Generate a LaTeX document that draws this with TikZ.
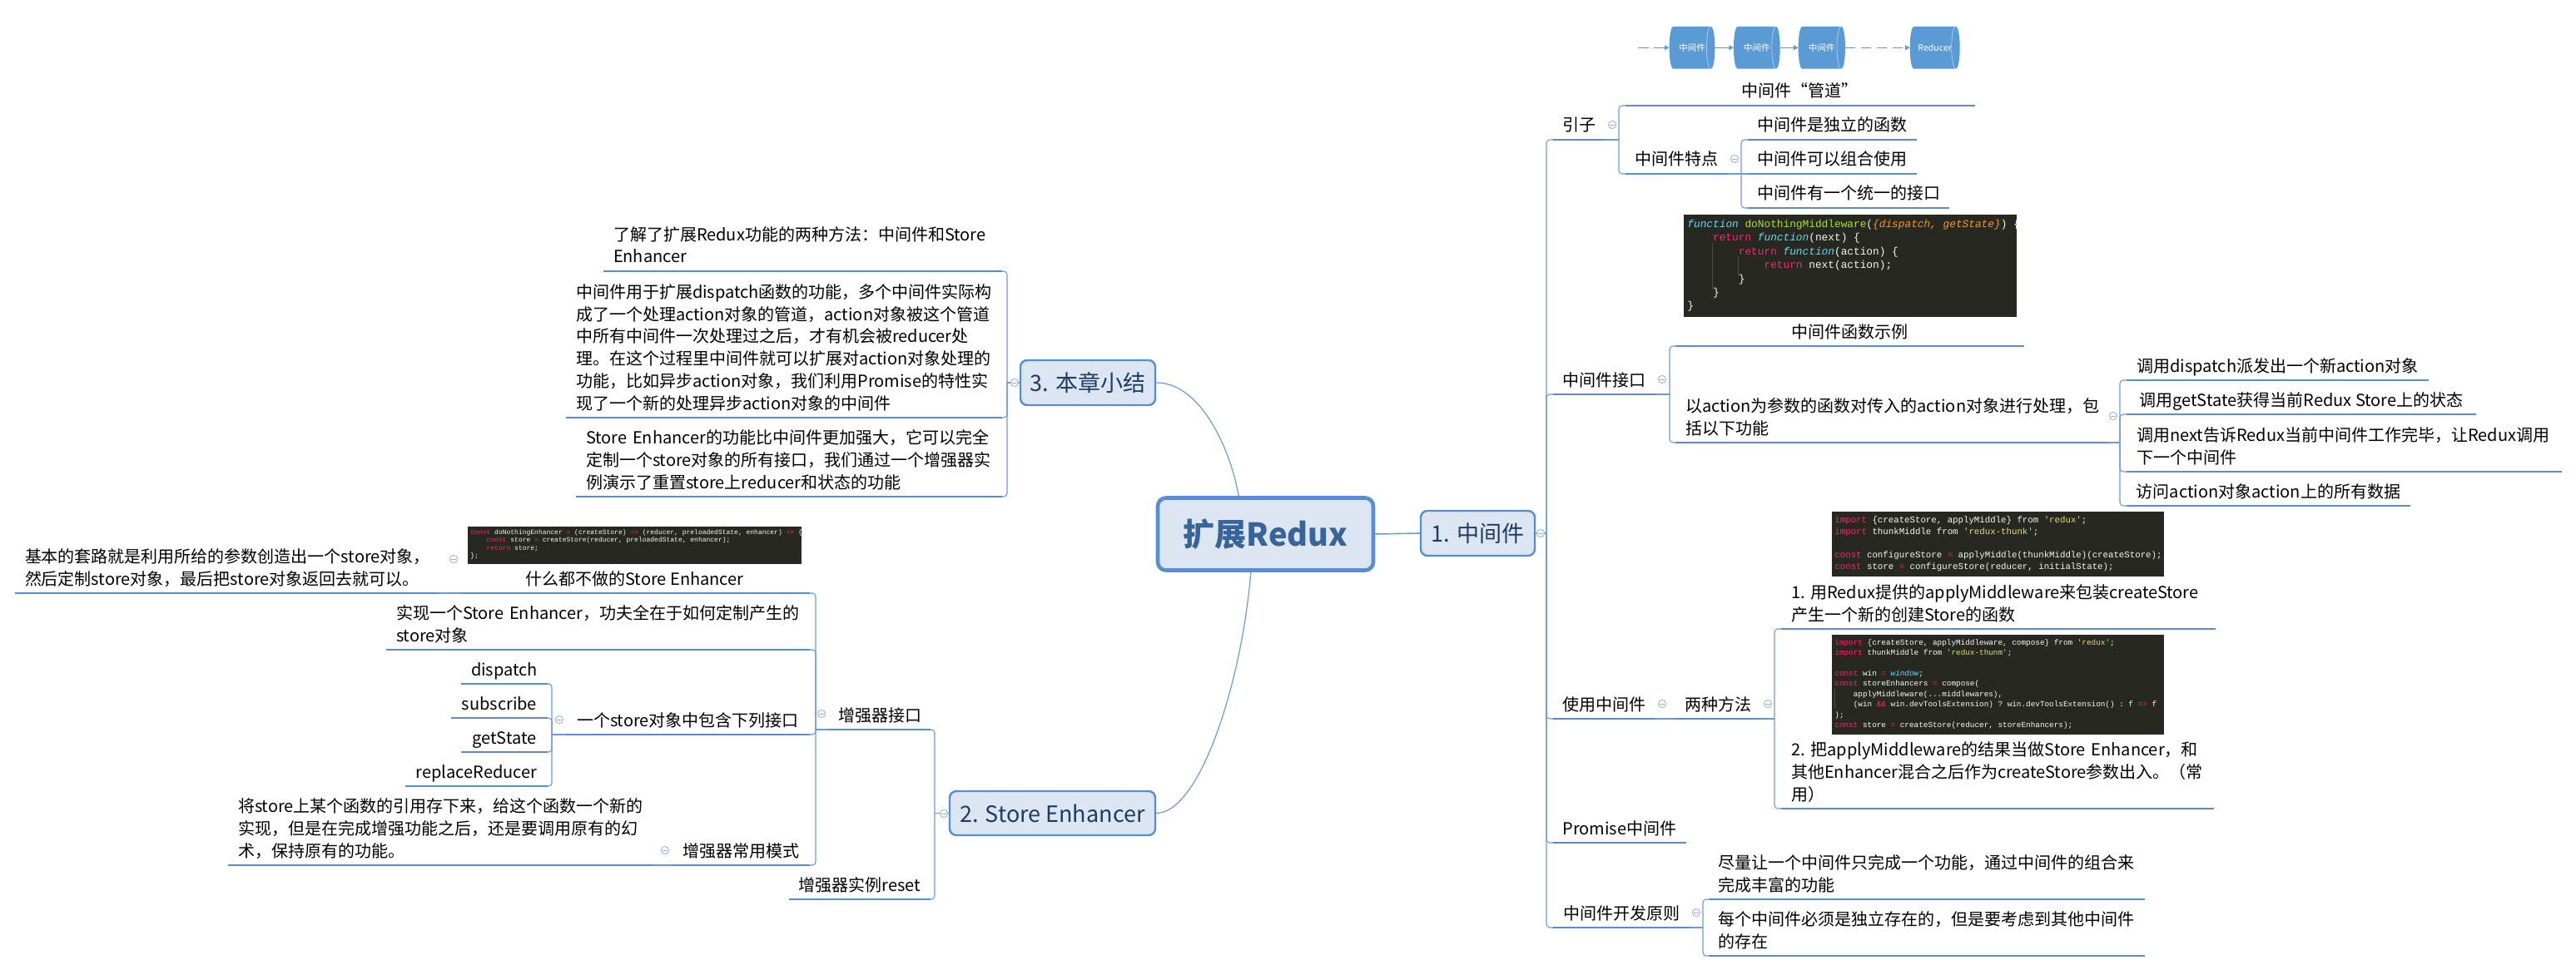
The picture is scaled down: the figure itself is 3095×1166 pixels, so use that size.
\documentclass[tikz,border=0pt]{standalone}
\usepackage{fontspec}
\setmainfont{Noto Sans CJK SC}
\setmonofont{Liberation Mono}
\usetikzlibrary{arrows.meta,calc}
\pgfdeclarelayer{back}
\pgfdeclarelayer{mid}
\pgfsetlayers{back,mid,main}
\definecolor{ul}{HTML}{5A8AD2}
\definecolor{cn}{HTML}{6C9AD8}
\definecolor{boxfill}{HTML}{DCE6F2}
\definecolor{boxdraw}{HTML}{558ED5}
\definecolor{roottext}{HTML}{386499}
\definecolor{boxtext}{HTML}{1F3B63}
\definecolor{pipe}{HTML}{5B9BD5}
\definecolor{pipeedge}{HTML}{A9C8EA}
\definecolor{btn}{HTML}{93AFDB}
\definecolor{codebg}{HTML}{272822}
\definecolor{ctx}{HTML}{F8F8F2}
\definecolor{ckw}{HTML}{F92672}
\definecolor{cfn}{HTML}{66D9EF}
\definecolor{cgn}{HTML}{A6E22E}
\definecolor{cor}{HTML}{FD971F}
\definecolor{cst}{HTML}{E6DB74}
\definecolor{cguide}{HTML}{4A4B42}
\newcommand\cKw[1]{\textcolor{ckw}{#1}}
\newcommand\cFn[1]{\textcolor{cfn}{\itshape #1}}
\newcommand\cGn[1]{\textcolor{cgn}{#1}}
\newcommand\cOr[1]{\textcolor{cor}{\itshape #1}}
\newcommand\cSt[1]{\textcolor{cst}{#1}}
\newcommand\cInd[1]{\hspace*{#1em}}
\newcommand\cDots{...}
\newcommand\joinR[3]{\draw[conn] (#1) -- (#3 |- #1);\draw[conn,rounded corners=2pt] (#3 |- #1) -- (#3 |- #2.south west) -- (#2.south west);}
\newcommand\joinL[3]{\draw[conn] (#1) -- (#3 |- #1);\draw[conn,rounded corners=2pt] (#3 |- #1) -- (#3 |- #2.south east) -- (#2.south east);}
\newcommand\cylfill[1]{%
  \begin{pgfonlayer}{mid}
  \fill[pipe] ([xshift=2.5pt]#1.north west) -- ([xshift=-2.5pt]#1.north east)
    .. controls ([xshift=0.83pt]#1.north east) and ([xshift=0.83pt]#1.south east) .. ([xshift=-2.5pt]#1.south east)
    -- ([xshift=2.5pt]#1.south west)
    .. controls ([xshift=-0.83pt]#1.south west) and ([xshift=-0.83pt]#1.north west) .. ([xshift=2.5pt]#1.north west) -- cycle;
  \draw[pipeedge, line width=0.4pt] ([xshift=-2.5pt]#1.north east) .. controls ([xshift=-5.83pt]#1.north east) and ([xshift=-5.83pt]#1.south east) .. ([xshift=-2.5pt]#1.south east);
  \end{pgfonlayer}}
\begin{document}
\begin{tikzpicture}[x=0.5pt,y=-0.5pt,
  topic/.style={anchor=south west, inner xsep=0pt, inner ysep=5pt, outer sep=0pt, text depth=0pt, font=\fontsize{10}{13.35}\selectfont, text=black},
  ml/.style 2 args={align=left, text width=#1, text depth=#2},
  box/.style={rounded corners=4pt, fill=boxfill, draw=boxdraw, line width=1.2pt, inner sep=0pt, text=boxtext, font=\fontsize{13.5}{16}\selectfont},
  rootbox/.style={rounded corners=5pt, fill=boxfill, draw=boxdraw, line width=2.3pt, inner sep=0pt, text=roottext, font=\bfseries\fontsize{19}{22}\selectfont},
  conn/.style={draw=cn, line width=0.55pt},
  rootconn/.style={draw=cn, line width=0.6pt},
  uline/.style={draw=ul, line width=1.3pt},
  btnc/.style={circle, draw=btn, fill=white, line width=0.4pt, minimum size=4.6pt, inner sep=0pt, path picture={\draw[btn, line width=0.4pt] ([xshift=-1.3pt]path picture bounding box.center) -- ([xshift=1.3pt]path picture bounding box.center);}},
  pipenode/.style={minimum height=25pt, inner sep=0pt, text=white, font=\fontsize{5.3}{6}\selectfont},
  pipearrow/.style={draw=pipe, line width=0.6pt, -{Triangle[length=2.8pt,width=2.8pt]}},
  codebox/.style={fill=codebg, anchor=north west, inner sep=0pt, outer sep=0pt},
  codeline/.style={anchor=base west, inner sep=0pt, text=ctx}
]
\begin{pgfonlayer}{back}
\fill[white] (0,0) rectangle (3095,1166);
\end{pgfonlayer}
\useasboundingbox (0,0) rectangle (3095,1166);

% ---------- central and main boxes
\node[rootbox, minimum width=129.5pt, minimum height=43.5pt] (root) at (1520.5,642) {扩展Redux};
\node[box, minimum width=68.5pt, minimum height=27pt] (m) at (1775.5,641) {1. 中间件};
\node[box, minimum width=123.5pt, minimum height=26.5pt] (se) at (1264.5,977.5) {2. Store Enhancer};
\node[box, minimum width=81pt, minimum height=27pt] (bj) at (1307,460) {3. 本章小结};

\coordinate (rt) at ($(root.north west)!0.378!(root.north east)$);
\coordinate (rb) at ($(root.south west)!0.433!(root.south east)$);
\draw[rootconn] (rt) .. controls +(-11,-60) and +(52,0) .. (bj.east);
\draw[rootconn] (rb) .. controls +(-11,134) and +(52,0) .. (se.east);
\draw[rootconn, line width=0.8pt] (root.east) -- (m.west);

% ---------- pipeline picture
\node[pipenode, minimum width=27pt] (p1) at (2033,57.3) {中间件};
\node[pipenode, minimum width=27.5pt] (p2) at (2110.8,57.3) {中间件};
\node[pipenode, minimum width=27.8pt] (p3) at (2188.8,57.3) {中间件};
\node[pipenode, minimum width=29.6pt] (p4) at (2324.7,57.3) {Reducer};
\cylfill{p1}\cylfill{p2}\cylfill{p3}\cylfill{p4}
\coordinate (pst) at (1968,57.3);
\draw[pipearrow, dash pattern=on 6.5pt off 3pt] (pst) -- (p1.west);
\draw[pipearrow] (p1.east) -- (p2.west);
\draw[pipearrow] (p2.east) -- (p3.west);
\draw[pipearrow, dash pattern=on 6pt off 3.5pt] (p3.east) -- (p4.west);

% ---------- code pictures
\node[codebox, minimum width=200pt, minimum height=61.5pt] (code1) at (2023,258) {};
\draw[cguide, line width=0.4pt] (2057.5,292) -- (2057.5,348);
\draw[cguide, line width=0.4pt] (2088.5,308) -- (2088.5,332);
\foreach \cl [count=\i from 0] in {
 {\cFn{function} \cGn{doNothingMiddleware}(\cOr{\{dispatch, getState\}}) \{},
 {\cInd{2.4}\cKw{return} \cFn{function}(next) \{},
 {\cInd{4.8}\cKw{return} \cFn{function}(action) \{},
 {\cInd{7.2}\cKw{return} next(action);},
 {\cInd{4.8}\}},
 {\cInd{2.4}\}},
 {\}}}
 \node[codeline, font=\ttfamily\fontsize{6.4}{8}\selectfont] (ca\i) at (2027,{273.5+16.4*\i}) {\cl};

\node[codebox, minimum width=199.5pt, minimum height=39pt] (code2) at (2201,615) {};
\foreach \cl [count=\i from 0] in {
 {\cKw{import} \{createStore, applyMiddle\} from \cSt{'redux'};},
 {\cKw{import} thunkMiddle from \cSt{'redux-thunk'};},
 {},
 {\cKw{const} configureStore \cKw{=} applyMiddle(thunkMiddle)(createStore);},
 {\cKw{const} store \cKw{=} configureStore(reducer, initialState);}}
 \node[codeline, font=\ttfamily\fontsize{5.37}{7}\selectfont] (cb\i) at (2204,{628+14*\i}) {\cl};

\node[codebox, minimum width=199.5pt, minimum height=60pt] (code3) at (2201,763) {};
\draw[cguide, line width=0.4pt] (2204.5,828) -- (2204.5,852);
\foreach \cl [count=\i from 0] in {
 {\cKw{import} \{createStore, applyMiddleware, compose\} from \cSt{'redux'};},
 {\cKw{import} thunkMiddle from \cSt{'redux-thunm'};},
 {},
 {\cKw{const} win \cKw{=} \cFn{window};},
 {\cKw{const} storeEnhancers \cKw{=} compose(},
 {\cInd{2.4}applyMiddleware(\cDots middlewares),},
 {\cInd{2.4}(win \cKw{\&\&} win.devToolsExtension) ? win.devToolsExtension() : f \cKw{=>} f},
 {);},
 {\cKw{const} store \cKw{=} createStore(reducer, storeEnhancers);}}
 \node[codeline, font=\ttfamily\fontsize{4.67}{6}\selectfont] (cc\i) at (2204,{775.2+12.41*\i}) {\cl};

\node[codebox, minimum width=200.5pt, minimum height=22.5pt] (code4) at (562,633) {};
\foreach \cl [count=\i from 0] in {
 {\cKw{const} doNothingEnhancer \cKw{=} (createStore) \cKw{=>} (reducer, preloadedState, enhancer) \cKw{=>} \{},
 {\cInd{2.4}\cKw{const} store \cKw{=} createStore(reducer, preloadedState, enhancer);},
 {\cInd{2.4}\cKw{return} store;},
 {\};}}
 \node[codeline, font=\ttfamily\fontsize{4}{5}\selectfont] (cd\i) at (565,{642.2+9.43*\i}) {\cl};

% ---------- right side topics
\node[topic, minimum width=31pt] (yz) at (1866,168) {引子};
\node[topic, minimum width=209.75pt] (gd) at (1953,127) {中间件“管道”};
\node[topic, minimum width=61.5pt] (td) at (1953,209) {中间件特点};
\node[topic, minimum width=101.3pt] (t1) at (2100,168) {中间件是独立的函数};
\node[topic, minimum width=101.3pt] (t2) at (2100,209) {中间件可以组合使用};
\node[topic, minimum width=121pt] (t3) at (2100,250) {中间件有一个统一的接口};
\node[topic, minimum width=61.5pt] (jk) at (1866,474) {中间件接口};
\node[topic, minimum width=209.5pt] (sl) at (2013,416) {中间件函数示例};
\node[topic, minimum width=260pt, ml={248pt}{13.35pt}] (ac) at (2013,532) {以action为参数的函数对传入的action对象进行处理，包\\括以下功能};
\node[topic, minimum width=181.5pt] (f1) at (2555,457) {调用dispatch派发出一个新action对象};
\node[topic, minimum width=210pt] (f2) at (2555,498) {调用getState获得当前Redux Store上的状态};
\node[topic, minimum width=261.5pt, ml={249.5pt}{13.35pt}] (f3) at (2555,567) {调用next告诉Redux当前中间件工作完毕，让Redux调用\\下一个中间件};
\node[topic, minimum width=170.5pt] (f4) at (2555,608) {访问action对象action上的所有数据};
\node[topic, minimum width=61.5pt] (sy) at (1866,864) {使用中间件};
\node[topic, minimum width=51.5pt] (lz) at (2013,864) {两种方法};
\node[topic, minimum width=260.75pt, ml={248.75pt}{13.35pt}] (m1) at (2140,756) {1.~用Redux提供的applyMiddleware来包装createStore\\产生一个新的创建Store的函数};
\node[topic, minimum width=260pt, ml={248pt}{26.7pt}] (m2) at (2140,972) {2.~把applyMiddleware的结果当做Store~Enhancer，和\\其他Enhancer混合之后作为createStore参数出入。（常\\用）};
\node[topic, minimum width=80pt] (pr) at (1866,1013) {Promise中间件};
\node[topic, minimum width=82pt] (kf) at (1866,1115) {中间件开发原则};
\node[topic, minimum width=262pt, ml={250pt}{13.35pt}] (k1) at (2052.5,1081) {尽量让一个中间件只完成一个功能，通过中间件的组合来\\完成丰富的功能};
\node[topic, minimum width=262pt, ml={250pt}{13.35pt}] (k2) at (2052.5,1149) {每个中间件必须是独立存在的，但是要考虑到其他中间件\\的存在};

% ---------- left side topics
\node[topic, minimum width=239.5pt, ml={227.5pt}{13.35pt}] (s1) at (725,326) {了解了扩展Redux功能的两种方法：中间件和Store\\Enhancer};
\node[topic, minimum width=262pt, ml={250pt}{66.75pt}] (s2) at (680,502) {中间件用于扩展dispatch函数的功能，多个中间件实际构\\成了一个处理action对象的管道，action对象被这个管道\\中所有中间件一次处理过之后，才有机会被reducer处\\理。在这个过程里中间件就可以扩展对action对象处理的\\功能，比如异步action对象，我们利用Promise的特性实\\现了一个新的处理异步action对象的中间件};
\node[topic, minimum width=256pt, ml={244pt}{26.7pt}] (s3) at (692,597) {Store~Enhancer的功能比中间件更加强大，它可以完全\\定制一个store对象的所有接口，我们通过一个增强器实\\例演示了重置store上reducer和状态的功能};
\node[topic, minimum width=61pt] (zq) at (996,877) {增强器接口};
\node[topic, minimum width=85pt] (rs) at (948,1081) {增强器实例reset};
\node[topic, minimum width=210.5pt] (nd) at (552,713) {什么都不做的Store Enhancer};
\node[topic, minimum width=254.5pt, ml={242.5pt}{13.35pt}] (tl) at (18,713) {基本的套路就是利用所给的参数创造出一个store对象，\\然后定制store对象，最后把store对象返回去就可以。};
\node[topic, minimum width=254.5pt, ml={242.5pt}{13.35pt}] (sx) at (464,781) {实现一个Store~Enhancer，功夫全在于如何定制产生的\\store对象};
\node[topic, minimum width=146.5pt] (yg) at (680,883) {一个store对象中包含下列接口};
\node[topic, minimum width=52pt] (i1) at (554,822) {dispatch};
\node[topic, minimum width=58pt] (i2) at (542,863) {subscribe};
\node[topic, minimum width=52pt] (i3) at (554,904) {getState};
\node[topic, minimum width=85.5pt] (i4) at (487,945) {replaceReducer};
\node[topic, minimum width=82.5pt] (cy) at (808,1040) {增强器常用模式};
\node[topic, minimum width=255pt, ml={243pt}{26.7pt}] (jc) at (274,1040) {将store上某个函数的引用存下来，给这个函数一个新的\\实现，但是在完成增强功能之后，还是要调用原有的幻\\术，保持原有的功能。};

% ---------- brackets
\coordinate (bm) at (1858,0);
\coordinate (byz) at (1945,0);
\coordinate (btd) at (2092,0);
\coordinate (bjk) at (2006,0);
\coordinate (bac) at (2547,0);
\coordinate (blz) at (2132,0);
\coordinate (bkf) at (2046,0);
\coordinate (bbj) at (1210,0);
\coordinate (bse) at (1123,0);
\coordinate (bzq) at (980,0);
\coordinate (byg) at (663,0);

% ---------- connectors, right
\joinR{m.east}{yz}{bm}
\joinR{m.east}{jk}{bm}
\joinR{m.east}{sy}{bm}
\joinR{m.east}{pr}{bm}
\joinR{m.east}{kf}{bm}
\joinR{yz.south east}{gd}{byz}
\joinR{yz.south east}{td}{byz}
\joinR{td.south east}{t1}{btd}
\draw[conn] (td.south east) -- (t2.south west);
\joinR{td.south east}{t3}{btd}
\joinR{jk.south east}{sl}{bjk}
\joinR{jk.south east}{ac}{bjk}
\joinR{ac.south east}{f1}{bac}
\joinR{ac.south east}{f2}{bac}
\joinR{ac.south east}{f3}{bac}
\joinR{ac.south east}{f4}{bac}
\draw[conn] (sy.south east) -- (lz.south west);
\joinR{lz.south east}{m1}{blz}
\joinR{lz.south east}{m2}{blz}
\joinR{kf.south east}{k1}{bkf}
\joinR{kf.south east}{k2}{bkf}

% ---------- connectors, left
\joinL{bj.west}{s1}{bbj}
\joinL{bj.west}{s2}{bbj}
\joinL{bj.west}{s3}{bbj}
\joinL{se.west}{zq}{bse}
\joinL{se.west}{rs}{bse}
\joinL{zq.south west}{nd}{bzq}
\joinL{zq.south west}{sx}{bzq}
\joinL{zq.south west}{yg}{bzq}
\joinL{zq.south west}{cy}{bzq}
\draw[conn] (nd.south west) -- (tl.south east);
\joinL{yg.south west}{i1}{byg}
\joinL{yg.south west}{i2}{byg}
\joinL{yg.south west}{i3}{byg}
\joinL{yg.south west}{i4}{byg}
\draw[conn] (cy.south west) -- (jc.south east);

% ---------- underlines
\foreach \n in {yz,gd,td,t1,t2,t3,jk,sl,ac,f1,f2,f3,f4,sy,lz,m1,m2,pr,kf,k1,k2,s1,s2,s3,zq,rs,nd,tl,sx,yg,i1,i2,i3,i4,cy,jc}
  \draw[uline] (\n.south west) -- (\n.south east);

% ---------- collapse buttons
\node[btnc] (cm) at (1851,641) {};
\node[btnc] (cyz) at (1937,150) {};
\node[btnc] (ctd) at (2084,191) {};
\node[btnc] (cjk) at (1997,456) {};
\node[btnc] (cac) at (2539,500) {};
\node[btnc] (csy) at (1997,846) {};
\node[btnc] (clz) at (2124,846) {};
\node[btnc] (ckf) at (2038,1097) {};
\node[btnc] (cbj) at (1219,460) {};
\node[btnc] (cse) at (1134,978) {};
\node[btnc] (czq) at (987,858) {};
\node[btnc] (cnd) at (545,672) {};
\node[btnc] (cyg) at (672,865) {};
\node[btnc] (ccy) at (799,1022) {};
\end{tikzpicture}
\end{document}
